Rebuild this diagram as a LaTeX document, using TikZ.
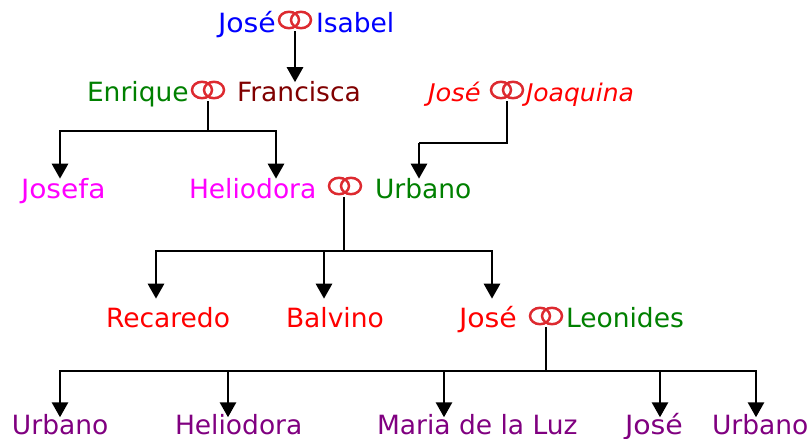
\documentclass[tikz,border=0pt]{standalone}
\usepackage{fontspec}
\setmainfont{DejaVu Sans}
\usetikzlibrary{arrows.meta,calc}
\definecolor{ringred}{HTML}{DD2A30}
\definecolor{cgreen}{HTML}{008000}
\definecolor{cdred}{HTML}{800000}
\definecolor{cpurple}{HTML}{800080}
\definecolor{cblue}{HTML}{0000FF}
\definecolor{cred}{HTML}{FF0000}
\definecolor{cmag}{HTML}{FF00FF}
\tikzset{
  x=1pt,y=-1pt,
  person/.style={anchor=base west,inner sep=0pt,outer sep=0pt,text height=20pt,text depth=0pt,font=\fontsize{26.5}{30}\selectfont},
  widened/.style={transform shape,xscale=#1},
  ringbox/.style={inner sep=0pt,outer sep=0pt,minimum width=37pt,minimum height=22pt,
    path picture={
      \draw[ringred,line width=2.5pt] ($(path picture bounding box.center)+(-6,0)$) ellipse [x radius=10pt,y radius=8.2pt];
      \draw[ringred,line width=2.5pt] ($(path picture bounding box.center)+(6,0)$) ellipse [x radius=10pt,y radius=8.2pt];
    }},
  line/.style={draw=black,line width=2.3pt},
  arr/.style={draw=black,line width=2.8pt,-{Triangle[width=16pt,length=15pt]}},
}
\begin{document}
\begin{tikzpicture}
\useasboundingbox (0,0) rectangle (809,439);
% generation 1
\node[person,widened=1.07,text=cblue] (jose1) at (218,32.7) {José};
\node[person,text=cblue] (isabel) at (316,32.7) {Isabel};
\node[ringbox] (r1) at (295,20) {};
% generation 2
\node[person,text=cgreen] (enrique) at (87,101.7) {Enrique};
\node[person,text=cdred] (francisca) at (237,101.7) {Francisca};
\node[ringbox] (r2) at (208,90) {};
\node[person,widened=1.06,text=cred,font=\fontsize{24.3}{28}\selectfont\itshape] (jose2) at (428,101.7) {José};
\node[person,widened=1.03,text=cred,font=\fontsize{24.3}{28}\selectfont\itshape] (joaquina) at (526,101.7) {Joaquina};
\node[ringbox] (r3) at (507,90) {};
% generation 3
\node[person,widened=1.06,text=cmag] (josefa) at (21,198.7) {Josefa};
\node[person,text=cmag] (heliodora1) at (189,198.7) {Heliodora};
\node[ringbox] (r4) at (345,186) {};
\node[person,text=cgreen] (urbano1) at (375,198.7) {Urbano};
% generation 4
\node[person,text=cred] (recaredo) at (106,327.7) {Recaredo};
\node[person,text=cred] (balvino) at (286,327.7) {Balvino};
\node[person,widened=1.07,text=cred] (jose3) at (459,327.7) {José};
\node[ringbox] (r5) at (546,316) {};
\node[person,text=cgreen] (leonides) at (566,327.7) {Leonides};
% generation 5
\node[person,text=cpurple] (urbano2) at (12,434) {Urbano};
\node[person,text=cpurple] (heliodora2) at (175,434) {Heliodora};
\node[person,text=cpurple] (maria) at (377,434) {Maria de la Luz};
\node[person,widened=1.07,text=cpurple] (jose4) at (625,434) {José};
\node[person,text=cpurple] (urbano3) at (712,434) {Urbano};
% junctions
\coordinate (a1) at (60,131);
\coordinate (a2) at (276,131);
\coordinate (c1) at (419,143);
\coordinate (b1) at (156,251);
\coordinate (b2) at (324,251);
\coordinate (b3) at (492,251);
\coordinate (d1) at (60,371);
\coordinate (d2) at (228,371);
\coordinate (d3) at (444,371);
\coordinate (d4) at (660,371);
\coordinate (d5) at (756,371);
% connectors
\draw[arr,shorten >=-0.5pt] (r1.south) -- (r1.south |- francisca.north);
\draw[line] (r2.south) -- (r2.south |- a1);
\draw[line,line cap=rect] (a1) -- (a2);
\draw[arr] (a1) -- (a1 |- josefa.north);
\draw[arr] (a2) -- (a2 |- heliodora1.north);
\draw[line,line join=miter] (r3.south) -- (r3.south |- c1) -- (c1);
\draw[arr] (c1) -- (c1 |- urbano1.north);
\draw[line] ([xshift=-1pt]r4.south) -- ([xshift=-1pt]r4.south |- b1);
\draw[line,line cap=rect] (b1) -- (b3);
\draw[arr,shorten >=9pt] (b1) -- (b1 |- recaredo.north);
\draw[arr,shorten >=9pt] (b2) -- (b2 |- balvino.north);
\draw[arr,shorten >=9pt] (b3) -- (b3 |- jose3.north);
\draw[line] (r5.south) -- (r5.south |- d1);
\draw[line,line cap=rect] (d1) -- (d5);
\draw[arr,shorten >=-3.3pt] (d1) -- (d1 |- urbano2.north);
\draw[arr,shorten >=-3.3pt] (d2) -- (d2 |- heliodora2.north);
\draw[arr,shorten >=-3.3pt] (d3) -- (d3 |- maria.north);
\draw[arr,shorten >=-3.3pt] (d4) -- (d4 |- jose4.north);
\draw[arr,shorten >=-3.3pt] (d5) -- (d5 |- urbano3.north);
\end{tikzpicture}
\end{document}
